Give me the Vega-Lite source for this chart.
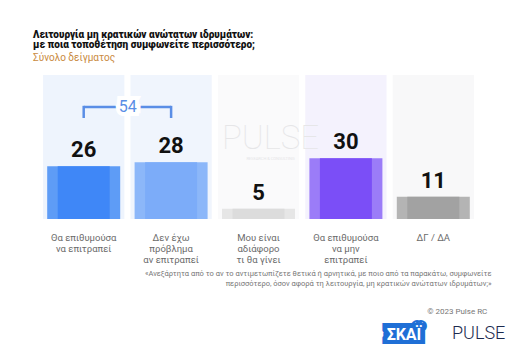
{
  "$schema": "https://vega.github.io/schema/vega-lite/v6.json",
  "width": 437,
  "height": 144,
  "autosize": {"type": "none"},
  "padding": {"left": 40, "top": 75, "right": 39, "bottom": 125},
  "background": "white",
  "config": {"view": {"stroke": null}, "font": "Roboto", "title": {"dx": -7}},
  "title": {
    "text": ["Λειτουργία μη κρατικών ανώτατων ιδρυμάτων:", "με ποια τοποθέτηση συμφωνείτε περισσότερο;"],
    "subtitle": "Σύνολο δείγματος",
    "anchor": "start",
    "frame": "group",
    "dx": -7,
    "offset": 12,
    "font": "Roboto",
    "fontSize": 10,
    "fontWeight": 900,
    "color": "#111111",
    "lineHeight": 10.5,
    "subtitleFont": "Roboto",
    "subtitleFontSize": 10,
    "subtitleColor": "#c98a3e",
    "subtitlePadding": 3
  },
  "datasets": {
    "bars": [
      {"category": "Θα επιθυμούσα|να επιτραπεί", "value": 26},
      {"category": "Δεν έχω|πρόβλημα|αν επιτραπεί", "value": 28},
      {"category": "Μου είναι|αδιάφορο|τι θα γίνει", "value": 5},
      {"category": "Θα επιθυμούσα|να μην|επιτραπεί", "value": 30},
      {"category": "ΔΓ / ΔΑ", "value": 11}
    ],
    "bracket": [
      {"from": "Θα επιθυμούσα|να επιτραπεί", "to": "Δεν έχω|πρόβλημα|αν επιτραπεί", "total": 54}
    ],
    "notes": [
      {"category": "Μου είναι|αδιάφορο|τι θα γίνει", "mark": "PULSE", "sub": "RESEARCH & CONSULTING"}
    ],
    "footer": [
      {"category": "ΔΓ / ΔΑ", "copyright": "© 2023 Pulse RC", "logo1": "ΣΚΑΪ", "logo2": "PULSE"}
    ]
  },
  "encoding": {
    "x": {
      "field": "category",
      "type": "nominal",
      "sort": null,
      "scale": {"paddingInner": 0.07, "paddingOuter": 0.035},
      "axis": {
        "domain": false,
        "ticks": false,
        "labelAngle": 0,
        "labelExpr": "split(datum.label, '|')",
        "labelFontSize": 9.5,
        "labelColor": "#6b6b6b",
        "labelLineHeight": 11,
        "labelPadding": 13,
        "labelLimit": 0,
        "title": ["«Ανεξάρτητα από το αν το αντιμετωπίζετε θετικά ή αρνητικά, με ποιο από τα παρακάτω, συμφωνείτε", "περισσότερο, όσον αφορά τη λειτουργία, μη κρατικών ανώτατων ιδρυμάτων;»"],
        "titleFontSize": 7.5,
        "titleFontWeight": "normal",
        "titleColor": "#777777",
        "titleAlign": "right",
        "titleAnchor": "end",
        "titleBaseline": "top",
        "titleLineHeight": 10,
        "titleX": 451,
        "titleY": 50
      }
    }
  },
  "resolve": {"scale": {"color": "independent"}},
  "layer": [
    {
      "data": {"name": "bars"},
      "mark": {"type": "bar"},
      "encoding": {
        "y": {"datum": 71, "type": "quantitative", "scale": {"domain": [0, 71], "nice": false, "zero": true}, "axis": null},
        "color": {
          "field": "category", "type": "nominal", "legend": null,
          "scale": {
            "domain": ["Θα επιθυμούσα|να επιτραπεί", "Δεν έχω|πρόβλημα|αν επιτραπεί", "Μου είναι|αδιάφορο|τι θα γίνει", "Θα επιθυμούσα|να μην|επιτραπεί", "ΔΓ / ΔΑ"],
            "range": ["#eef4fd", "#f0f5fd", "#fafafb", "#f4f2fd", "#f8f8f9"]
          }
        }
      }
    },
    {
      "data": {"name": "notes"},
      "mark": {"type": "text", "fontSize": 33, "fontWeight": 100, "color": "#e6e6e8", "dx": 12, "baseline": "middle", "font": "Roboto", "letterSpacing": 2},
      "encoding": {
        "y": {"datum": 39.5, "type": "quantitative"},
        "text": {"field": "mark"}
      }
    },
    {
      "data": {"name": "notes"},
      "mark": {"type": "text", "fontSize": 4, "color": "#e6e6e8", "dx": 12, "baseline": "middle"},
      "encoding": {
        "y": {"datum": 29.5, "type": "quantitative"},
        "text": {"field": "sub"}
      }
    },
    {
      "data": {"name": "bars"},
      "mark": {"type": "bar", "size": 73},
      "encoding": {
        "y": {"field": "value", "type": "quantitative"},
        "color": {
          "field": "category", "type": "nominal", "legend": null,
          "scale": {
            "domain": ["Θα επιθυμούσα|να επιτραπεί", "Δεν έχω|πρόβλημα|αν επιτραπεί", "Μου είναι|αδιάφορο|τι θα γίνει", "Θα επιθυμούσα|να μην|επιτραπεί", "ΔΓ / ΔΑ"],
            "range": ["#5e9cf6", "#8cb7f9", "#e6e6e6", "#9b7cf8", "#b4b4b4"]
          }
        }
      }
    },
    {
      "data": {"name": "bars"},
      "mark": {"type": "bar", "size": 52},
      "encoding": {
        "y": {"field": "value", "type": "quantitative"},
        "color": {
          "field": "category", "type": "nominal", "legend": null,
          "scale": {
            "domain": ["Θα επιθυμούσα|να επιτραπεί", "Δεν έχω|πρόβλημα|αν επιτραπεί", "Μου είναι|αδιάφορο|τι θα γίνει", "Θα επιθυμούσα|να μην|επιτραπεί", "ΔΓ / ΔΑ"],
            "range": ["#3f87f7", "#7cacf9", "#dcdcdc", "#7b4ef7", "#a2a2a2"]
          }
        }
      }
    },
    {
      "data": {"name": "bars"},
      "mark": {"type": "text", "fontSize": 22, "fontWeight": "bold", "color": "#111111", "baseline": "alphabetic", "dy": -9, "font": "Roboto"},
      "encoding": {
        "y": {"field": "value", "type": "quantitative"},
        "text": {"field": "value", "type": "quantitative"}
      }
    },
    {
      "data": {"name": "bracket"},
      "mark": {"type": "rule", "color": "#5a8ee6", "strokeWidth": 2.5},
      "encoding": {
        "x": {"field": "from", "type": "nominal"},
        "x2": {"field": "to"},
        "y": {"datum": 55.2, "type": "quantitative"}
      }
    },
    {
      "data": {"name": "bracket"},
      "mark": {"type": "rule", "color": "#5a8ee6", "strokeWidth": 2.5},
      "encoding": {
        "x": {"field": "from", "type": "nominal"},
        "y": {"datum": 55.8, "type": "quantitative"},
        "y2": {"datum": 49.8}
      }
    },
    {
      "data": {"name": "bracket"},
      "mark": {"type": "rule", "color": "#5a8ee6", "strokeWidth": 2.5},
      "encoding": {
        "x": {"field": "to", "type": "nominal"},
        "y": {"datum": 55.8, "type": "quantitative"},
        "y2": {"datum": 49.8}
      }
    },
    {
      "data": {"name": "bracket"},
      "mark": {"type": "text", "fontSize": 16, "color": "#ffffff", "stroke": "#ffffff", "strokeWidth": 8, "baseline": "middle", "dx": 44},
      "encoding": {
        "x": {"field": "from", "type": "nominal"},
        "y": {"datum": 55.2, "type": "quantitative"},
        "text": {"field": "total"}
      }
    },
    {
      "data": {"name": "bracket"},
      "mark": {"type": "text", "fontSize": 16, "color": "#5a8ee6", "baseline": "middle", "dx": 44},
      "encoding": {
        "x": {"field": "from", "type": "nominal"},
        "y": {"datum": 55.2, "type": "quantitative"},
        "text": {"field": "total"}
      }
    },
    {
      "data": {"name": "footer"},
      "mark": {"type": "text", "fontSize": 8, "color": "#777777", "align": "right", "baseline": "middle", "dx": 54},
      "encoding": {
        "y": {"datum": -46, "type": "quantitative"},
        "text": {"field": "copyright"}
      }
    },
    {
      "data": {"name": "footer"},
      "mark": {"type": "text", "fontSize": 16, "fontWeight": "bold", "color": "#1f6fd6", "stroke": "#1f6fd6", "strokeWidth": 10, "strokeJoin": "miter", "align": "right", "baseline": "middle", "dx": -12},
      "encoding": {
        "y": {"datum": -57, "type": "quantitative"},
        "text": {"field": "logo1"}
      }
    },
    {
      "data": {"name": "footer"},
      "mark": {"type": "text", "fontSize": 16, "fontWeight": "bold", "color": "#ffffff", "align": "right", "baseline": "middle", "dx": -12},
      "encoding": {
        "y": {"datum": -57, "type": "quantitative"},
        "text": {"field": "logo1"}
      }
    },
    {
      "data": {"name": "footer"},
      "mark": {"type": "text", "fontSize": 18, "fontWeight": 300, "color": "#1b2a4e", "align": "right", "baseline": "middle", "dx": 72, "letterSpacing": 1},
      "encoding": {
        "y": {"datum": -56.5, "type": "quantitative"},
        "text": {"field": "logo2"}
      }
    }
  ]
}
